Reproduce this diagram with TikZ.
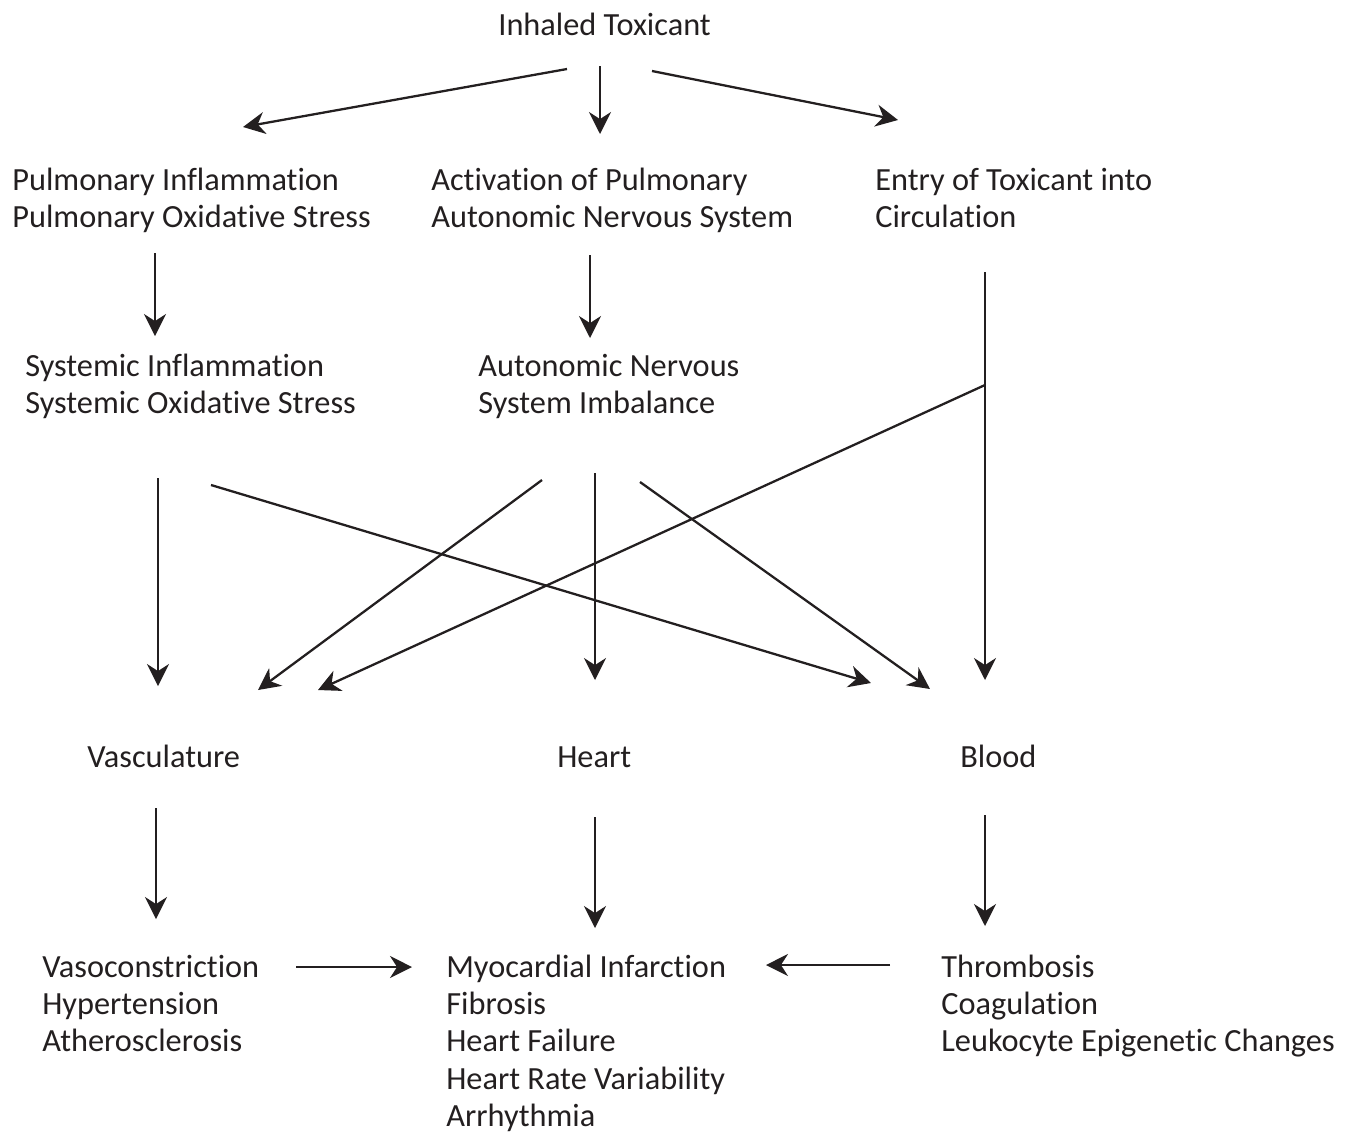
\documentclass[tikz,border=0pt]{standalone}
\usepackage{fontspec}
\setmainfont{Carlito}[Ligatures=NoCommon]
\usetikzlibrary{arrows.meta,calc}
\definecolor{ink}{RGB}{35,31,32}
\newcommand{\lns}[1]{\begin{tabular}[t]{@{}l@{}}#1\end{tabular}}
\tikzset{
  lbl/.style={anchor=base west, inner sep=0pt, text=ink,
    font=\fontsize{18.4}{21.3}\selectfont},
  arr/.style={draw=ink, line width=1.3pt,
    -{Stealth[length=12.5pt,width=12.5pt,inset=4pt]}}
}
\begin{document}
\begin{tikzpicture}[x=0.02cm, y=-0.02cm]
\useasboundingbox (0,0) rectangle (1360,1134);
\node[lbl] (tox) at (498,35) {Inhaled Toxicant}; % top
\node[lbl] (pulm) at (12,190) {\lns{Pulmonary Inflammation\\Pulmonary Oxidative Stress}};
\node[lbl] (act) at (431,190) {\lns{Activation of Pulmonary\\Autonomic Nervous System}};
\node[lbl] (entry) at (875,190) {\lns{Entry of Toxicant into\\Circulation}};
\node[lbl] (sys) at (25,376) {\lns{Systemic Inflammation\\Systemic Oxidative Stress}};
\node[lbl] (ans) at (478,376) {\lns{Autonomic Nervous\\System Imbalance}};
\node[lbl] (vasc) at (87,767) {Vasculature};
\node[lbl] (heart) at (557,767) {Heart};
\node[lbl] (blood) at (960,767) {Blood};
\node[lbl] (vaso) at (42,977) {\lns{Vasoconstriction\\Hypertension\\Atherosclerosis}};
\node[lbl] (mi) at (446,977) {\lns{Myocardial Infarction\\Fibrosis\\Heart Failure\\Heart Rate Variability\\Arrhythmia}};
\node[lbl] (thromb) at (941,977) {\lns{Thrombosis\\Coagulation\\Leukocyte Epigenetic Changes}};
\coordinate (split) at ($(entry.base west)+(110,195)$); % branch point
% first row
\draw[arr] ($(tox.base west)+(69,34)$) -- ($(pulm.base west)+(231,-63)$);
\draw[arr] ($(tox.base west)+(102,31)$) -- ($(act.base west)+(169,-56)$);
\draw[arr] ($(tox.base west)+(154,36)$) -- ($(entry.base west)+(23,-70)$);
% second row
\draw[arr] ($(pulm.base west)+(143,63)$) -- ($(sys.base west)+(130,-40)$);
\draw[arr] ($(act.base west)+(159,65)$) -- ($(ans.base west)+(112,-38)$);
\draw[arr] ($(entry.base west)+(110,82)$) -- ($(blood.base west)+(25,-87)$);
\draw[arr] (split) -- ($(vasc.base west)+(231,-77)$);
% third row
\draw[arr] ($(sys.base west)+(133,102)$) -- ($(vasc.base west)+(71,-81)$);
\draw[arr] ($(sys.base west)+(186,109)$) -- ($(blood.base west)+(-89,-84)$);
\draw[arr] ($(ans.base west)+(64,104)$) -- ($(vasc.base west)+(171,-77)$);
\draw[arr] ($(ans.base west)+(117,97)$) -- ($(heart.base west)+(38,-87)$);
\draw[arr] ($(ans.base west)+(162,106)$) -- ($(blood.base west)+(-30,-78)$);
% bottom
\draw[arr] ($(vasc.base west)+(69,41)$) -- ($(vaso.base west)+(114,-58)$);
\draw[arr] ($(heart.base west)+(38,50)$) -- ($(mi.base west)+(149,-49)$);
\draw[arr] ($(blood.base west)+(25,48)$) -- ($(thromb.base west)+(44,-51)$);
\draw[arr] ($(vaso.base west)+(254,-10)$) -- ($(mi.base west)+(-34,-10)$);
\draw[arr] ($(thromb.base west)+(-51,-12)$) -- ($(mi.base west)+(320,-12)$);
\end{tikzpicture}
\end{document}
